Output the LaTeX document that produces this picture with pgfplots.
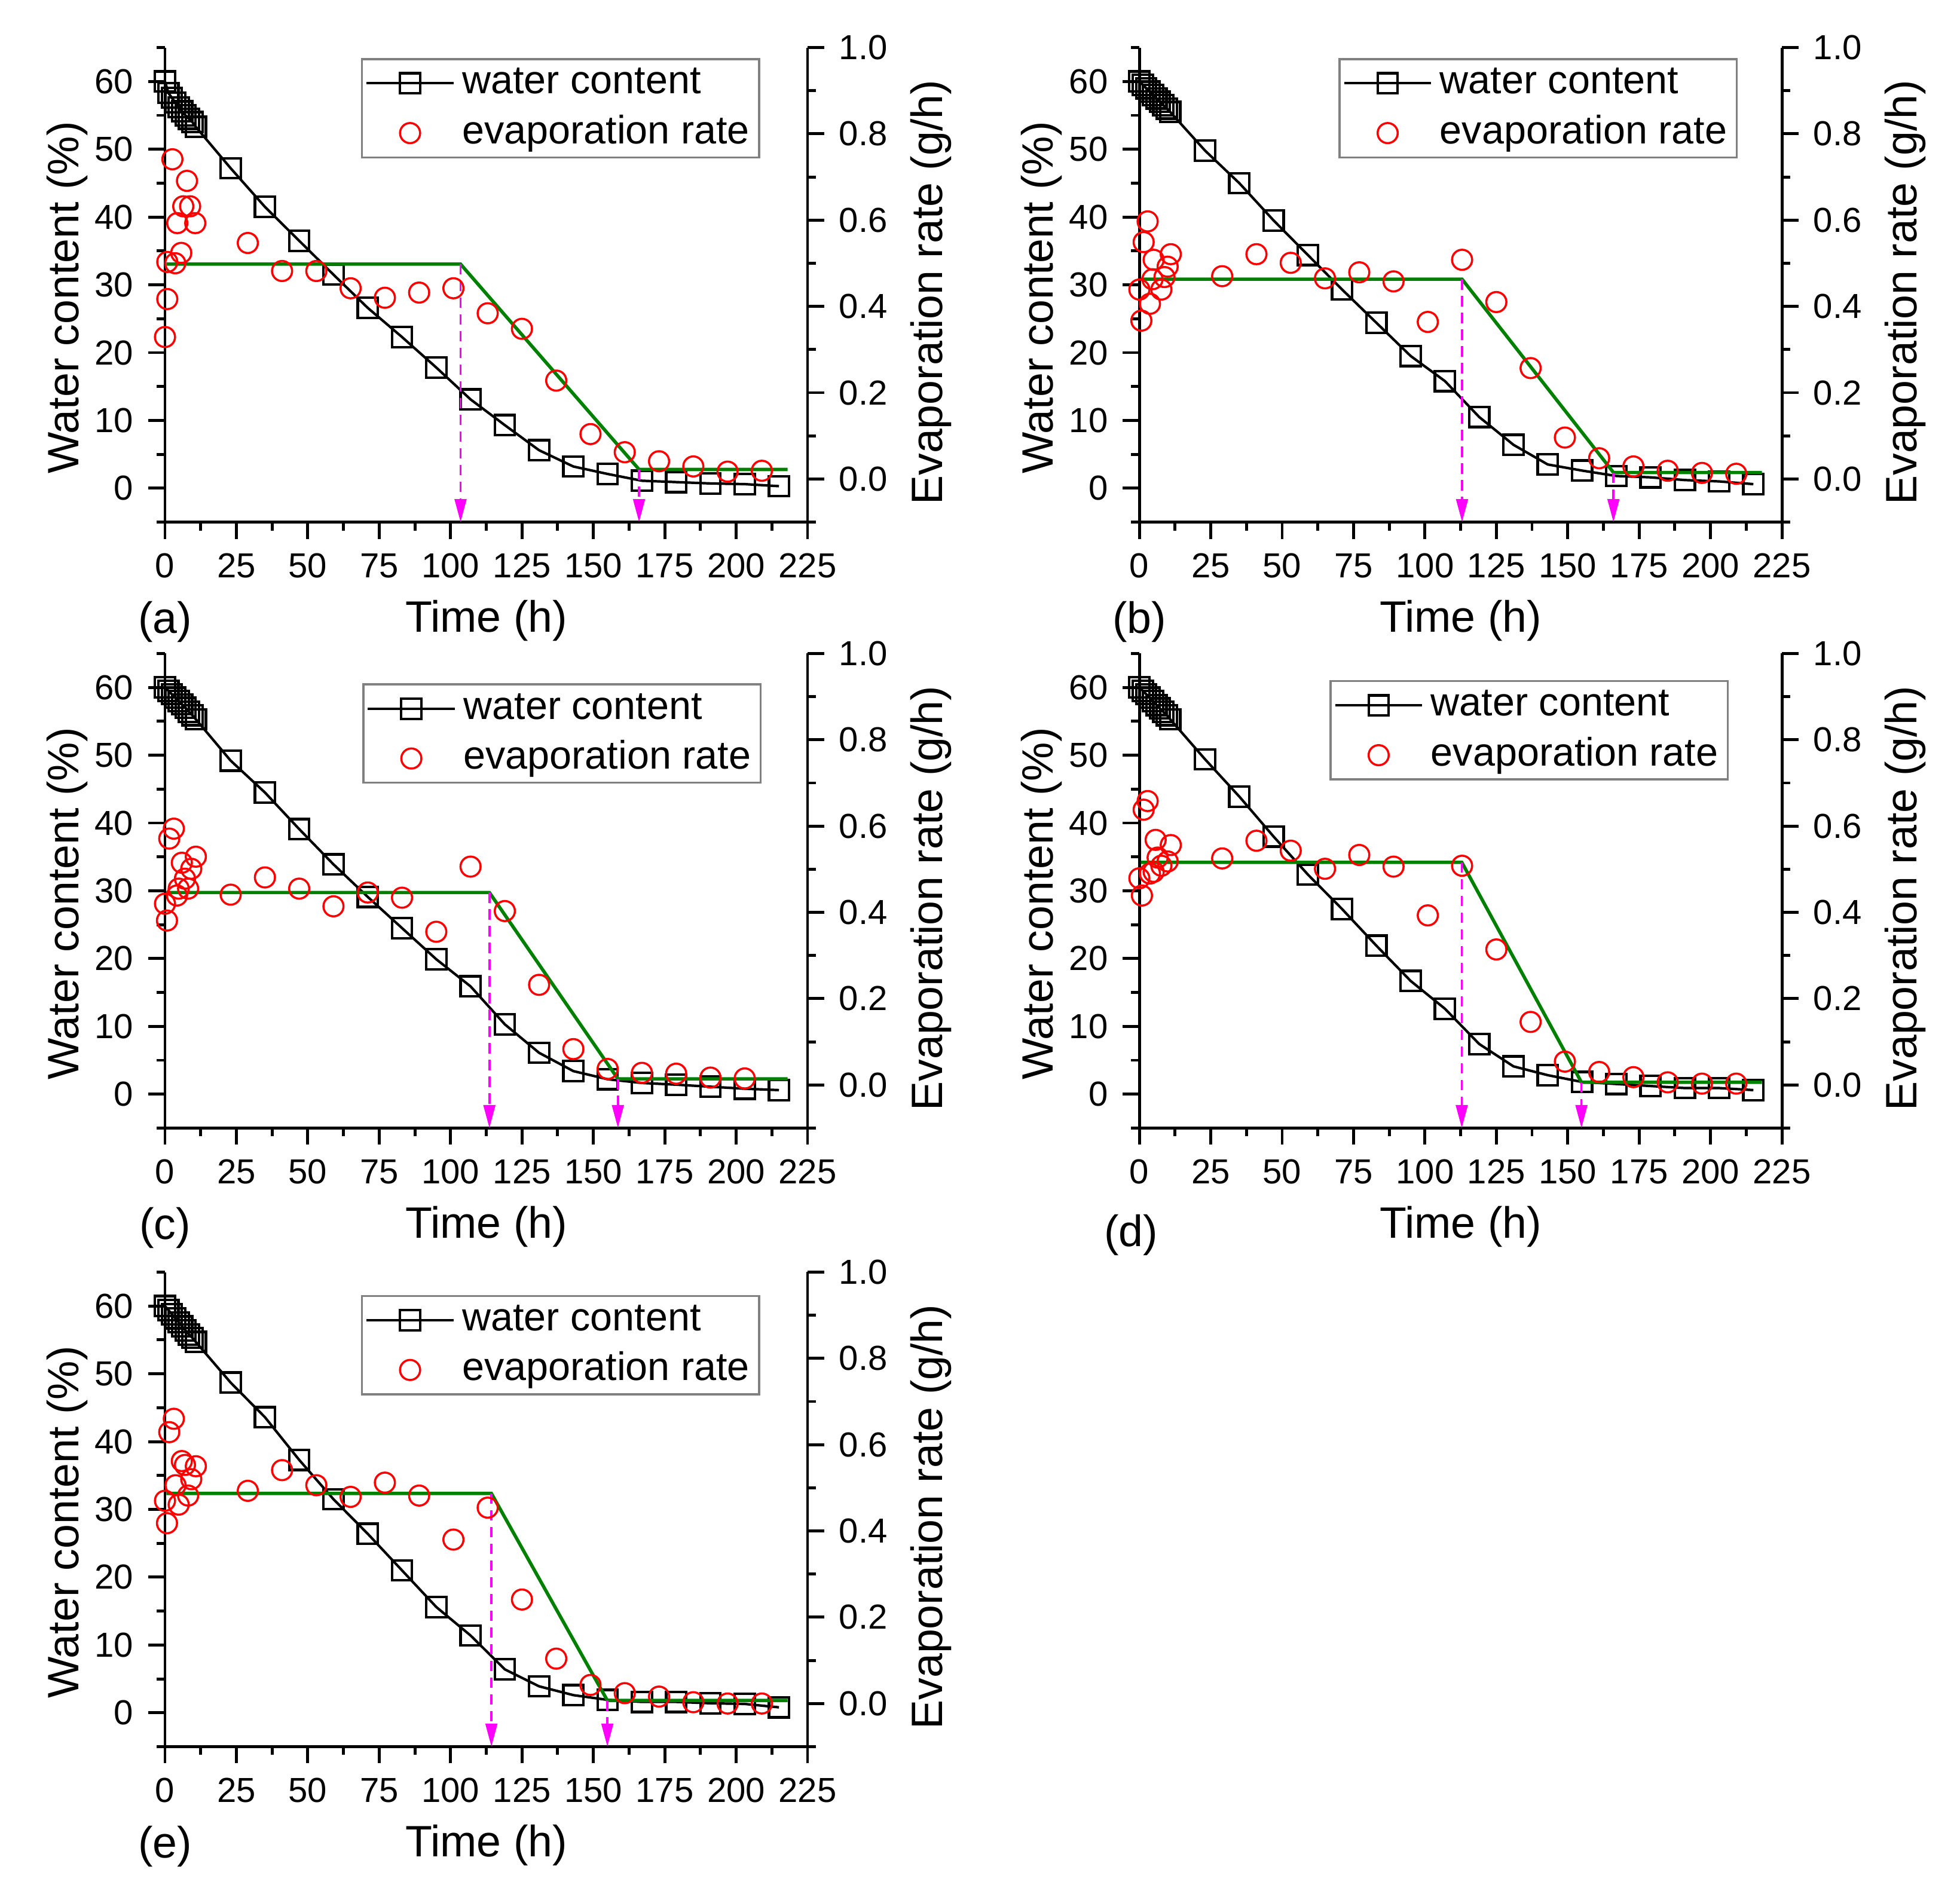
\documentclass[border=0pt]{standalone}
\usepackage{pgfplots}
\pgfplotsset{compat=1.18}
\usepackage{pgfplotstable}
\usepackage{fontspec}
\setmainfont{Liberation Sans}
\usetikzlibrary{arrows.meta}
\definecolor{ogreen}{RGB}{0,128,0}
\definecolor{mag}{RGB}{255,0,255}
\definecolor{ored}{RGB}{255,0,0}

\pgfplotstableread{
t w
0 60
1.2 58.3
2.4 57.6
3.6 56.9
4.8 56.2
6.0 55.6
7.2 55.0
8.4 54.5
9.6 54.0
10.8 53.3
23 47.2
35 41.5
47 36.5
59 31.5
71 26.6
83 22.3
95 17.8
107 13.1
119 9.3
131 5.6
143 3.2
155 2.1
167 1.1
179 0.9
191 0.7
203 0.6
215 0.3
}\tWa
\pgfplotstableread{
t r
0 0.329
0.8 0.417
0.8 0.503
2.6 0.741
3.6 0.500
4.3 0.593
5.7 0.524
6.4 0.632
7.7 0.691
8.8 0.632
10.6 0.593
29 0.547
41 0.482
53 0.482
65 0.442
77 0.420
89 0.432
101 0.442
113 0.384
125 0.348
137 0.228
149 0.104
161 0.062
173 0.041
185 0.029
197 0.017
209 0.019
}\tRa
\pgfplotstableread{
t r
0.5 0.498
103.5 0.498
166 0.022
218 0.022
}\tGa

\pgfplotstableread{
t w
0 60
1.2 59.5
2.4 59.0
3.6 58.5
4.8 58.0
6.0 57.5
7.2 57.0
8.4 56.5
9.6 56.0
10.8 55.5
23 49.8
35 45.0
47 39.5
59 34.4
71 29.3
83 24.4
95 19.5
107 15.8
119 10.5
131 6.4
143 3.5
155 2.6
167 1.8
179 1.6
191 1.2
203 1.0
215 0.6
}\tWb
\pgfplotstableread{
t r
0 0.439
0.7 0.367
1.5 0.549
2.9 0.597
3.7 0.406
4.6 0.463
5.0 0.508
7.7 0.439
8.8 0.468
9.9 0.492
11 0.521
29 0.470
41 0.521
53 0.501
65 0.465
77 0.479
89 0.458
101 0.364
113 0.508
125 0.410
137 0.257
149 0.096
161 0.048
173 0.029
185 0.019
197 0.014
209 0.012
}\tRb
\pgfplotstableread{
t r
0.5 0.463
113 0.463
166 0.015
218 0.015
}\tGb

\pgfplotstableread{
t w
0 60
1.2 59.5
2.4 59.0
3.6 58.5
4.8 58.0
6.0 57.5
7.2 57.0
8.4 56.4
9.6 55.9
10.8 55.3
23 49.2
35 44.5
47 39.1
59 33.9
71 29.1
83 24.5
95 19.9
107 15.9
119 10.3
131 6.1
143 3.4
155 2.2
167 1.65
179 1.4
191 1.1
203 0.8
215 0.6
}\tWc
\pgfplotstableread{
t r
0 0.420
0.7 0.381
1.5 0.571
3.1 0.594
4.2 0.439
4.8 0.455
5.9 0.515
7.0 0.478
8.1 0.455
9.2 0.501
10.8 0.529
23 0.441
35 0.481
47 0.455
59 0.414
71 0.446
83 0.434
95 0.355
107 0.506
119 0.403
131 0.232
143 0.083
155 0.037
167 0.028
179 0.026
191 0.017
203 0.015
}\tRc
\pgfplotstableread{
t r
0.5 0.446
113.6 0.446
158.6 0.014
218 0.014
}\tGc

\pgfplotstableread{
t w
0 60
1.2 59.5
2.4 59.0
3.6 58.5
4.8 58.0
6.0 57.4
7.2 56.9
8.4 56.4
9.6 55.9
10.8 55.3
23 49.4
35 43.9
47 38.0
59 32.4
71 27.3
83 21.9
95 16.7
107 12.6
119 7.4
131 4.1
143 2.8
155 1.8
167 1.5
179 1.2
191 0.9
203 0.9
215 0.6
}\tWd
\pgfplotstableread{
t r
0 0.479
0.9 0.439
1.5 0.638
2.9 0.658
3.7 0.490
5.0 0.494
5.7 0.568
6.4 0.527
7.7 0.508
9.9 0.518
11 0.556
29 0.525
41 0.566
53 0.543
65 0.501
77 0.533
89 0.506
101 0.393
113 0.508
125 0.314
137 0.146
149 0.054
161 0.030
173 0.018
185 0.006
197 0.003
209 0.003
}\tRd
\pgfplotstableread{
t r
0.5 0.516
112.9 0.516
154.8 0.006
218 0.006
}\tGd

\pgfplotstableread{
t w
0 60
1.2 59.4
2.4 58.8
3.6 58.2
4.8 57.6
6.0 57.0
7.2 56.4
8.4 55.8
9.6 55.3
10.8 54.7
23 48.7
35 43.6
47 37.3
59 31.5
71 26.4
83 21.0
95 15.6
107 11.4
119 6.4
131 3.9
143 2.6
155 1.9
167 1.6
179 1.6
191 1.4
203 1.3
215 0.8
}\tWe
\pgfplotstableread{
t r
0 0.470
0.7 0.418
1.5 0.629
3.1 0.660
3.7 0.506
4.8 0.461
5.9 0.562
7.0 0.553
8.1 0.482
9.2 0.520
10.8 0.550
29 0.493
41 0.541
53 0.506
65 0.479
77 0.512
89 0.482
101 0.380
113 0.454
125 0.241
137 0.104
149 0.043
161 0.024
173 0.016
185 0.003
197 0.000
209 0.000
}\tRe
\pgfplotstableread{
t r
0.5 0.487
114.3 0.487
154.9 0.007
218 0.007
}\tGe

\pgfplotsset{
  base/.style={
    width=153.57pt, height=113.43pt, scale only axis,
    xmin=0, xmax=225, clip=false,
    /pgf/number format/assume math mode=true,
    tick align=outside, major tick length=4pt, minor tick length=2pt,
    tick style={black, line width=0.7pt},
    axis line style={line width=0.7pt, -},
    tick label style={font=\fontsize{8.3}{10}\selectfont},
    label style={font=\fontsize{10.5}{12.6}\selectfont},
  },
  panelL/.style={base,
    ymin=-5, ymax=65,
    axis y line*=left, axis x line*=bottom,
    xtick={0,25,...,225}, minor xtick={12.5,37.5,...,212.5},
    ytick={0,10,...,60}, minor ytick={-5,5,...,65},
    xlabel={Time (h)}, ylabel={Water content (\%)},
    xlabel style={at={(axis description cs:0.5,-0.208)}, anchor=center},
    ylabel style={at={(axis description cs:-0.152,0.473)}, anchor=center},
  },
  panelR/.style={base,
    ymin=-0.1, ymax=1.0,
    axis y line*=right, axis x line=none,
    ytick={0,0.2,0.4,0.6,0.8,1.0}, minor ytick={-0.1,0.1,0.3,0.5,0.7,0.9},
    yticklabel style={/pgf/number format/.cd, fixed, fixed zerofill, precision=1},
    ylabel={Evaporation rate (g/h)},
    ylabel style={at={(axis description cs:1.192,0.484)}, anchor=center},
    legend style={draw=gray, line width=0.5pt, font=\fontsize{9.5}{11}\selectfont,
      inner xsep=0.8pt, inner ysep=0pt, row sep=0.3pt, column sep=0.3pt, anchor=north west,
      nodes={inner sep=1.5pt, text height=6.8pt, text depth=1.8pt}},
    legend cell align=left,
  },
  wcs/.style={black, line width=0.6pt, mark=square, mark size=2.4pt,
    mark options={fill=white, solid, line width=0.6pt}},
  ers/.style={only marks, ored, mark=o, mark size=2.4pt, mark options={line width=0.5pt}},
  gls/.style={ogreen, line width=0.8pt, no marks},
  mgs/.style={mag, line width=0.5pt, dash pattern=on 2.5pt off 1.5pt,
    -{Triangle[length=5.5pt,width=2.8pt]}, no marks},
  wcleg/.style={legend image code/.code={\draw[mark repeat=2,mark phase=2,##1] plot coordinates {(0cm,0cm) (0.365cm,0cm) (0.73cm,0cm)};}},
  erleg/.style={legend image code/.code={\draw[##1] plot coordinates {(0.365cm,0cm)};}},
}
\newcommand{\plab}[1]{\node[font=\fontsize{10.5}{12.6}\selectfont] at (axis description cs:0,-0.21) {#1};}

\begin{document}
\begin{tikzpicture}
\path[use as bounding box] (0pt,0pt) rectangle (468.43pt,452pt);

% (a)
\begin{axis}[panelL, at={(39.43pt,327.2pt)}, anchor=south west]
\addplot[wcs] table {\tWa};
\plab{(a)}
\end{axis}
\begin{axis}[panelR, at={(39.43pt,327.2pt)}, anchor=south west,
  legend style={at={(axis description cs:0.305,0.978)}}]
\addlegendimage{wcs, wcleg}
\addlegendentry{water content}
\addplot[ers, erleg] table {\tRa};
\addlegendentry{evaporation rate}
\addplot[gls, forget plot] table {\tGa};
\addplot[mgs, forget plot] coordinates {(103.5,0.498) (103.5,-0.1)};
\addplot[mgs, forget plot] coordinates {(166,0.022) (166,-0.1)};
\end{axis}

% (b)
\begin{axis}[panelL, at={(272.3pt,327.2pt)}, anchor=south west]
\addplot[wcs] table {\tWb};
\plab{(b)}
\end{axis}
\begin{axis}[panelR, at={(272.3pt,327.2pt)}, anchor=south west,
  legend style={at={(axis description cs:0.310,0.978)}}]
\addlegendimage{wcs, wcleg}
\addlegendentry{water content}
\addplot[ers, erleg] table {\tRb};
\addlegendentry{evaporation rate}
\addplot[gls, forget plot] table {\tGb};
\addplot[mgs, forget plot] coordinates {(113,0.463) (113,-0.1)};
\addplot[mgs, forget plot] coordinates {(166,0.015) (166,-0.1)};
\end{axis}

% (c)
\begin{axis}[panelL, at={(39.43pt,182.36pt)}, anchor=south west]
\addplot[wcs] table {\tWc};
\plab{(c)}
\end{axis}
\begin{axis}[panelR, at={(39.43pt,182.36pt)}, anchor=south west,
  legend style={at={(axis description cs:0.307,0.937)}}]
\addlegendimage{wcs, wcleg}
\addlegendentry{water content}
\addplot[ers, erleg] table {\tRc};
\addlegendentry{evaporation rate}
\addplot[gls, forget plot] table {\tGc};
\addplot[mgs, forget plot] coordinates {(113.6,0.446) (113.6,-0.1)};
\addplot[mgs, forget plot] coordinates {(158.6,0.014) (158.6,-0.1)};
\end{axis}

% (d)
\begin{axis}[panelL, at={(272.3pt,182.36pt)}, anchor=south west]
\addplot[wcs] table {\tWd};
\node[font=\fontsize{10.5}{12.6}\selectfont] at (axis description cs:-0.013,-0.226) {(d)};
\end{axis}
\begin{axis}[panelR, at={(272.3pt,182.36pt)}, anchor=south west,
  legend style={at={(axis description cs:0.296,0.944)}}]
\addlegendimage{wcs, wcleg}
\addlegendentry{water content}
\addplot[ers, erleg] table {\tRd};
\addlegendentry{evaporation rate}
\addplot[gls, forget plot] table {\tGd};
\addplot[mgs, forget plot] coordinates {(112.9,0.516) (112.9,-0.1)};
\addplot[mgs, forget plot] coordinates {(154.8,0.006) (154.8,-0.1)};
\end{axis}

% (e)
\begin{axis}[panelL, at={(39.43pt,34.5pt)}, anchor=south west]
\addplot[wcs] table {\tWe};
\plab{(e)}
\end{axis}
\begin{axis}[panelR, at={(39.43pt,34.5pt)}, anchor=south west,
  legend style={at={(axis description cs:0.305,0.952)}}]
\addlegendimage{wcs, wcleg}
\addlegendentry{water content}
\addplot[ers, erleg] table {\tRe};
\addlegendentry{evaporation rate}
\addplot[gls, forget plot] table {\tGe};
\addplot[mgs, forget plot] coordinates {(114.3,0.487) (114.3,-0.1)};
\addplot[mgs, forget plot] coordinates {(154.9,0.007) (154.9,-0.1)};
\end{axis}
\end{tikzpicture}
\end{document}
